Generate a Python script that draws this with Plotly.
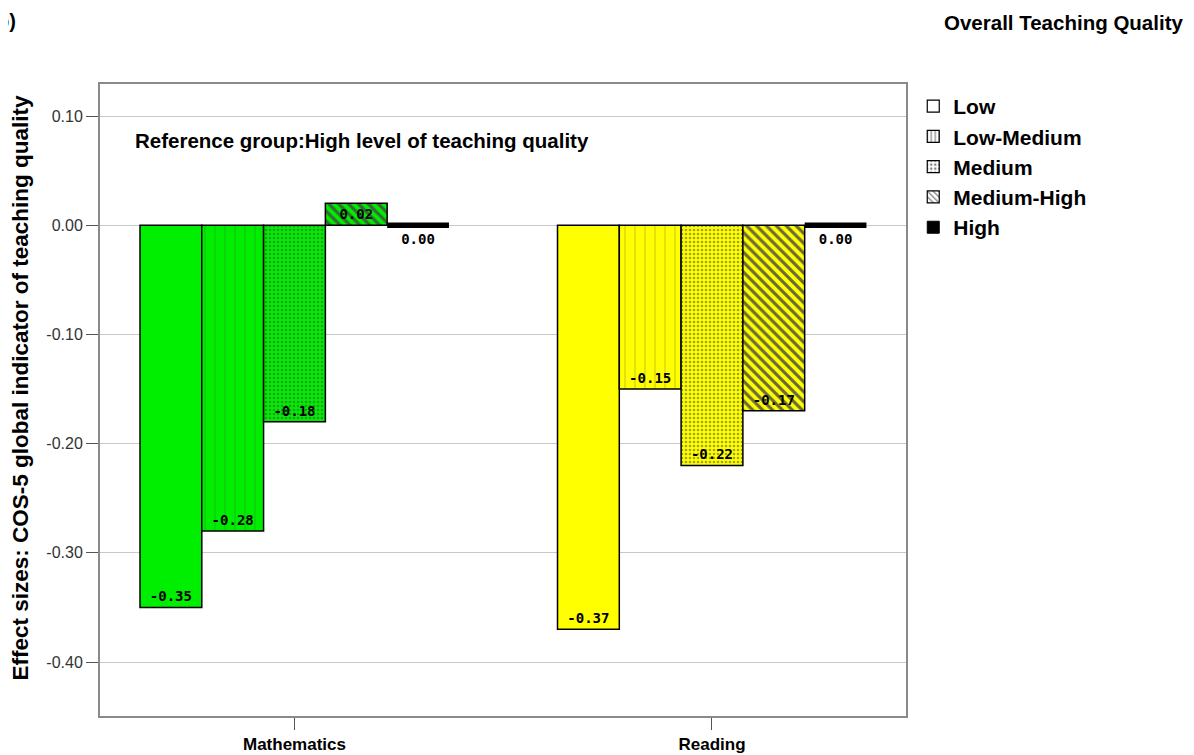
import plotly.graph_objects as go

# data
subjects = ["Mathematics", "Reading"]
levels = ["Low", "Low-Medium", "Medium", "Medium-High", "High"]
low = [-0.35, -0.37]
low_medium = [-0.28, -0.15]
medium = [-0.18, -0.22]
medium_high = [0.02, -0.17]
high = [0.00, 0.00]

y_ticks = [0.10, 0.00, -0.10, -0.20, -0.30, -0.40]

subject_colors = ["#00ee00", "#ffff00"]
patterns = ["", "|", ".", "\\", ""]
series = [low, low_medium, medium, medium_high, high]

fig = go.Figure()

label_font = dict(family="DejaVu Sans Mono", size=14, color="black", weight="bold")
outline = dict(color="black", width=1.5)

for name, vals, shape in zip(levels, series, patterns):
    text = [f"{v:.2f}" for v in vals]
    if name == "High":
        # reference group: drawn as a thick black line at the value
        thick = 0.005
        fig.add_trace(go.Bar(
            x=subjects, y=[-thick] * len(vals), base=[v + thick / 2 for v in vals],
            marker=dict(color="black", line=dict(width=0)),
            text=text, textposition="outside", textfont=label_font,
            showlegend=False, cliponaxis=False,
        ))
    else:
        pat = dict(shape=shape, fgcolor="black", fgopacity=0.55, size=8, solidity=0.25)
        if shape == "|":
            pat.update(size=10, solidity=0.1, fgopacity=0.3)
        if shape == ".":
            pat.update(size=4, solidity=0.35, fgopacity=0.5)
        if shape == "\\":
            pat.update(size=7, solidity=0.45, fgopacity=0.8)
        fig.add_trace(go.Bar(
            x=subjects, y=vals,
            marker=dict(color=subject_colors, line=outline, pattern=pat),
            text=text, textposition="inside", insidetextanchor="end",
            textfont=label_font, textangle=0, constraintext="none",
            showlegend=False, cliponaxis=False,
        ))

# legend swatches (white with the patterns, black for High) on hidden axes
for i, (name, shape) in enumerate(zip(levels, patterns)):
    if name == "High":
        mk = dict(color="black", line=dict(color="black", width=1))
    else:
        mk = dict(color="white", line=dict(color="black", width=1.2),
                  pattern=dict(shape=shape, fgcolor="black", size=5, solidity=0.3))
    fig.add_trace(go.Bar(x=[subjects[0]], y=[None], name=name, marker=mk,
                         xaxis="x2", yaxis="y2",
                         legendgroup=f"g{i}", showlegend=True))

# page body adds an 8px offset, so the figure is 8px smaller on each side
fig.update_layout(
    width=1186, height=747,
    margin=dict(l=92, r=288, t=76, b=39, autoexpand=False),
    paper_bgcolor="white", plot_bgcolor="white",
    barmode="group", bargap=0.26, bargroupgap=0,
    font=dict(family="Liberation Sans, Arial", color="black"),
    legend=dict(x=1.009, y=0.997, xanchor="left", yanchor="top",
                font=dict(size=21, weight="bold", color="black"),
                tracegroupgap=0, bgcolor="rgba(0,0,0,0)"),
    xaxis=dict(range=[-0.4658, 1.4647], showline=True, mirror=True, automargin=False,
               linecolor="#8a8a8a", linewidth=2, ticks="outside", ticklen=12,
               tickcolor="#555", tickwidth=1,
               tickfont=dict(family="Liberation Sans, Arial", size=17,
                             weight="bold", color="black")),
    yaxis=dict(range=[-0.4494, 0.1293], showline=True, mirror=True, automargin=False,
               linecolor="#8a8a8a", linewidth=2, ticks="outside", ticklen=12,
               tickcolor="#555", tickwidth=1,
               tickvals=y_ticks, ticktext=[f"{t:.2f}" for t in y_ticks],
               showgrid=True, gridcolor="#c8c8c8", gridwidth=1, zeroline=False,
               tickfont=dict(size=16, color="#333")),
    xaxis2=dict(visible=False, overlaying="x"),
    yaxis2=dict(visible=False, overlaying="y"),
    annotations=[
        dict(text="Effect sizes: COS-5 global indicator of teaching quality",
             xref="paper", yref="paper", x=-0.0985, y=0.519, textangle=-90,
             xanchor="center", yanchor="middle", showarrow=False,
             font=dict(size=22.5, weight="bold", color="black")),
        dict(text="Reference group:High level of teaching quality", xref="paper", yref="paper",
             x=0.041, y=0.91, xanchor="left", yanchor="middle", showarrow=False,
             font=dict(size=20.5, weight="bold", color="black")),
        dict(text="Overall Teaching Quality", xref="paper", yref="paper",
             x=1.346, y=1.098, xanchor="right", yanchor="middle", showarrow=False,
             font=dict(size=20.5, weight="bold", color="black")),
        dict(text="b)", xref="paper", yref="paper",
             x=-0.1013, y=1.12, xanchor="right", yanchor="top", showarrow=False,
             font=dict(size=20, weight="bold", color="black")),
    ],
)

fig.write_html("out.html")
